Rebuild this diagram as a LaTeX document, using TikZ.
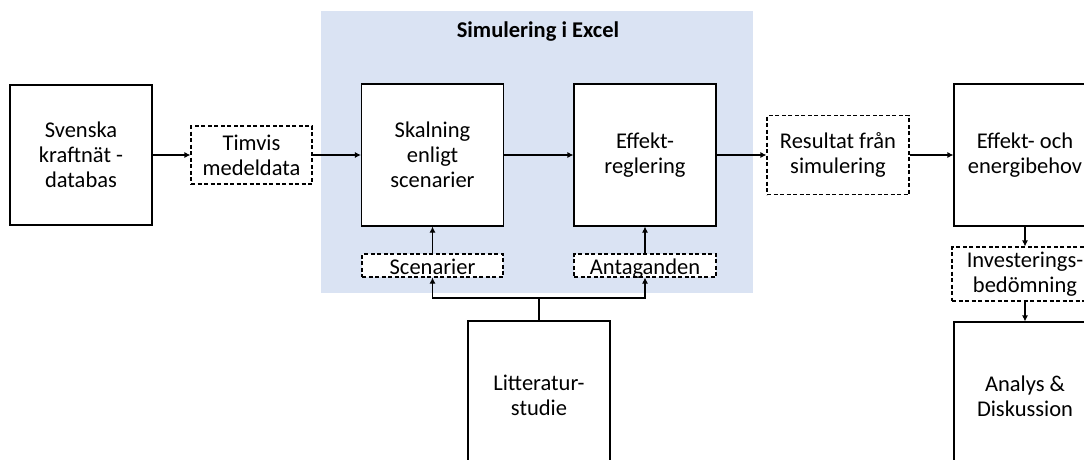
\documentclass[tikz,border=0pt]{standalone}
\usepackage{fontspec}
\setmainfont{Carlito}
\usetikzlibrary{arrows.meta}
\definecolor{bgblue}{RGB}{218,227,243}
\tikzset{
  txt/.style={font=\fontsize{22.5}{25}\selectfont},
  box/.style={draw=black, line width=1.1pt, fill=white, minimum width=#1, align=center, inner sep=0pt, txt},
  solidbox/.style={box=142pt, minimum height=142pt},
  dbox/.style={draw=black, line width=1.1pt, fill=white, dash pattern=on 4pt off 2.5pt, align=center, inner sep=0pt, txt},
  arr/.style={line width=1.1pt, -{Latex[length=6pt,width=6pt]}},
  ln/.style={line width=1.1pt}
}
\begin{document}
\begin{tikzpicture}[x=1pt,y=-1pt]
\useasboundingbox (0,0) rectangle (1084,459);
\clip (0,0) rectangle (1084,459);
\fill[bgblue] (321,11) rectangle (753,293);
\node[font=\fontsize{22.5}{25}\selectfont\bfseries] (title) at (538,32) {Simulering i Excel};
\node[box=142pt, minimum height=140pt] (sv) at (81,155) {Svenska\\kraftnät -\\databas};
\node[dbox, minimum width=121pt, minimum height=58pt] (tim) at (251.5,155) {Timvis\\medeldata};
\node[solidbox] (sk) at (432.5,155) {Skalning\\enligt\\scenarier};
\node[solidbox] (ef) at (645,155) {Effekt-\\reglering};
\node[dbox, minimum width=141pt, text height=20pt, text depth=3pt] (sc) at (432.5,265.5) {Scenarier};
\node[dbox, minimum width=142pt, text height=20pt, text depth=3pt] (an) at (645,265.5) {Antaganden};
\node[solidbox, minimum height=148pt] (lit) at (539,395) {Litteratur-\\studie};
\node[dbox, minimum width=142pt, minimum height=79pt] (res) at (838,155) {Resultat från\\simulering};
\node[solidbox] (eo) at (1025,155) {Effekt- och\\energibehov};
\node[dbox, minimum width=146pt, minimum height=54pt] (inv) at (1025,274) {Investerings-\\bedömning};
\node[solidbox, minimum height=148pt] (ad) at (1025,396) {Analys \&\\Diskussion};
\coordinate (j) at (539,298);
\draw[arr] (sv) -- (tim);
\draw[arr] (tim) -- (sk);
\draw[arr] (sk) -- (ef);
\draw[arr] (ef) -- (res);
\draw[arr] (res) -- (eo);
\draw[arr] (sc) -- (sk);
\draw[arr] (an) -- (ef);
\draw[ln] (lit.north) -- (j);
\draw[arr] (j) -| (sc.south);
\draw[arr] (j) -| (an.south);
\draw[arr] (eo) -- (inv);
\draw[arr] (inv) -- (ad);
\end{tikzpicture}
\end{document}
